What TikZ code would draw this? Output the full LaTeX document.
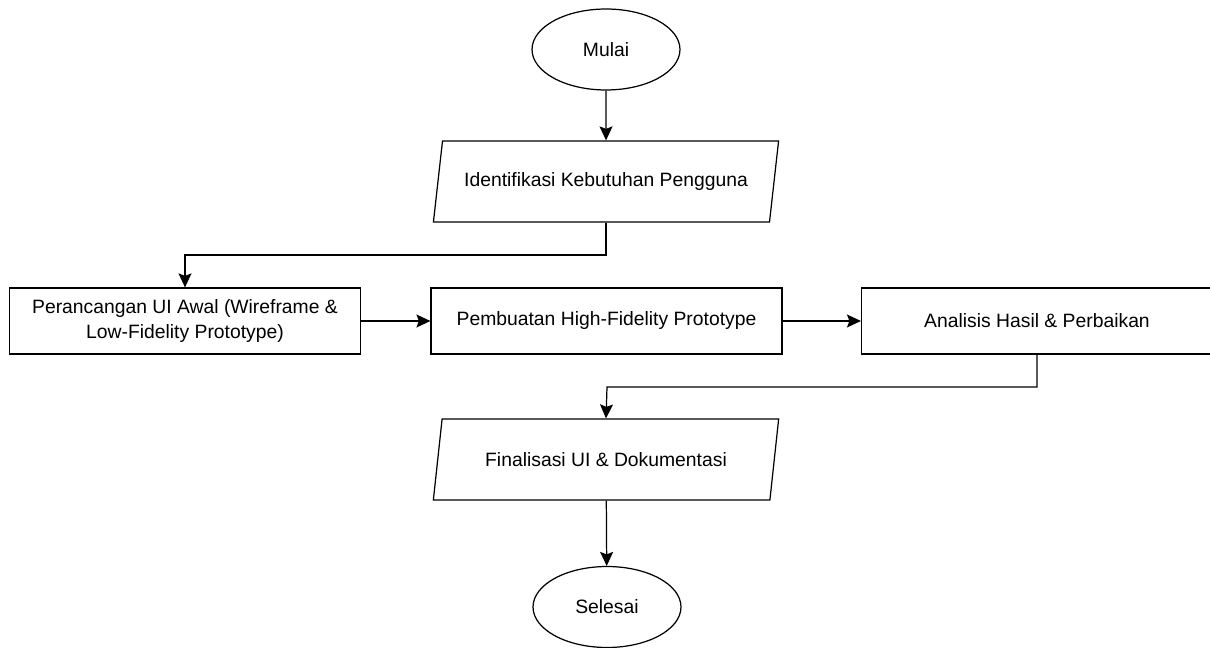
\documentclass[tikz,border=0pt]{standalone}
\usepackage{fontspec}
\setmainfont{Liberation Sans}
\usetikzlibrary{shapes.geometric,arrows.meta}
\begin{document}
\begin{tikzpicture}[x=0.02cm,y=-0.02cm,font=\fontsize{11}{14}\selectfont]
\tikzstyle{terminal}=[draw,ellipse,line width=0.7pt,minimum width=2.96cm,minimum height=1.62cm]
\tikzstyle{io}=[draw,trapezium,trapezium left angle=69.7,trapezium right angle=110.3,trapezium stretches=true,line width=0.7pt,minimum width=6.92cm,minimum height=1.62cm,inner sep=1pt]
\tikzstyle{process}=[draw,rectangle,line width=0.7pt,minimum width=7.02cm,minimum height=1.32cm,align=center]
\tikzstyle{flow}=[line width=0.7pt,-{Stealth[length=2.8mm,width=2.6mm,inset=0.5mm]}]
\useasboundingbox (0,0) rectangle (1210,648);
\node[terminal] (mulai) at (606,49.5) {Mulai};
\node[io] (ident) at (606,181.5) {Identifikasi Kebutuhan Pengguna};
\node[process] (ui) at (185,321) {Perancangan UI Awal (Wireframe \&\\Low-Fidelity Prototype)};
\node[process] (hifi) at (606.5,321) {Pembuatan High-Fidelity Prototype};
\node[process] (analisis) at (1037,321) {Analisis Hasil \& Perbaikan};
\node[io] (final) at (606,459.5) {Finalisasi UI \& Dokumentasi};
\node[terminal] (selesai) at (607,607) {Selesai};
\coordinate (k1) at (185,255);
\coordinate (k2) at (607,387);
\begin{scope}[style=flow]
    \draw (mulai) -- (ident);
    \draw (ident.south) |- (k1) -- (ui.north);
    \draw (ui) -- (hifi);
    \draw (hifi) -- (analisis);
    \draw (analisis.south) |- (k2) -- (final.north);
    \draw (final) -- (selesai);
\end{scope}
\end{tikzpicture}
\end{document}
